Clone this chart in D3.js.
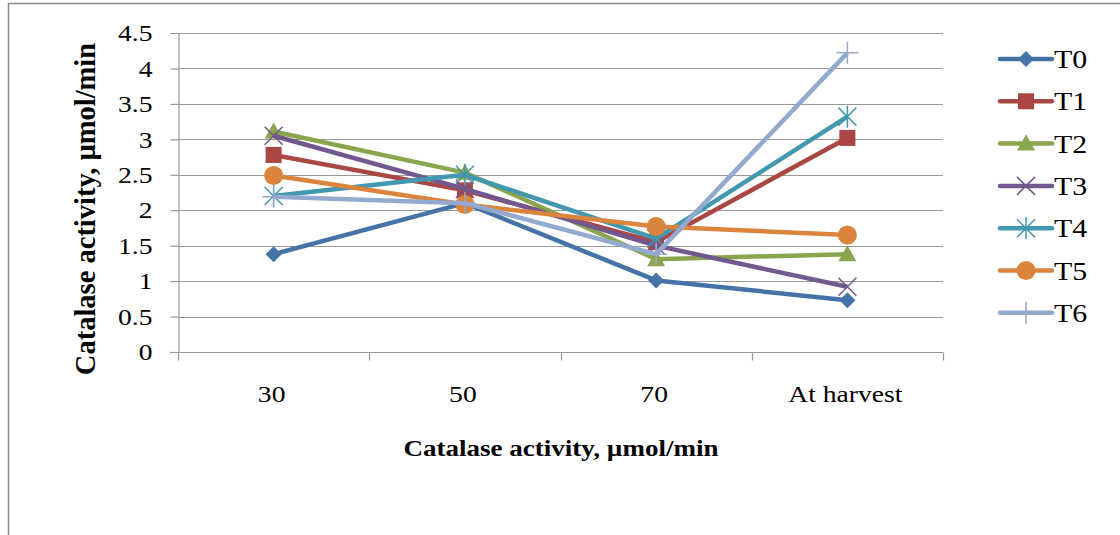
<!DOCTYPE html>
<html>
<head>
<meta charset="utf-8">
<script src="https://cdn.jsdelivr.net/npm/d3@7"></script>
<style>
  body { margin: 0; background: #fff; }
  svg { display: block; font-family: "Liberation Serif", "Times New Roman", serif; }
</style>
</head>
<body>
<svg id="chart" width="1120" height="535"></svg>
<script>
// categories along the x axis
const stages = ["30", "50", "70", "At harvest"];

// series names
const treatments = ["T0", "T1", "T2", "T3", "T4", "T5", "T6"];

// values per treatment, one per stage
const T0 = [1.38, 2.1, 1.01, 0.73];
const T1 = [2.78, 2.28, 1.55, 3.02];
const T2 = [3.11, 2.53, 1.31, 1.38];
const T3 = [3.05, 2.3, 1.5, 0.92];
const T4 = [2.2, 2.5, 1.6, 3.32];
const T5 = [2.49, 2.08, 1.77, 1.65];
const T6 = [2.19, 2.1, 1.38, 4.22];

const yTicks = [0, 0.5, 1, 1.5, 2, 2.5, 3, 3.5, 4, 4.5];

const colors = ["#4572A7", "#AA4643", "#89A54E", "#71588F", "#4198AF", "#DB843D", "#93A9CF"];
const shapes = ["diamond", "square", "triangle", "x", "asterisk", "circle", "plus"];

const seriesValues = [T0, T1, T2, T3, T4, T5, T6];

// the source figure's type is a bit wide, so text is stretched sideways
const stretch = 1.15;

const svg = d3.select('#chart');

// outer frame of the chart
svg.append('path')
  .attr('d', 'M8.5,535 L8.5,3.5 L1120,3.5')
  .style('fill', 'none')
  .style('stroke', '#8c8c8c')
  .style('stroke-width', 1.5);

const plot = {left: 178, right: 943, top: 33, bottom: 352};

const x = d3.scaleBand()
  .domain(stages)
  .range([plot.left, plot.right]);

const y = d3.scaleLinear()
  .domain([0, 4.5])
  .range([plot.bottom, plot.top]);

// horizontal gridlines
svg.append('g')
  .selectAll('line')
  .data(yTicks.slice(1))
  .enter()
  .append('line')
  .attr('x1', plot.left)
  .attr('x2', plot.right)
  .attr('y1', d => Math.round(y(d)) + 0.5)
  .attr('y2', d => Math.round(y(d)) + 0.5)
  .style('stroke', '#999')
  .style('stroke-width', 1.2);

// y axis
const yAxis = svg.append('g')
  .attr('transform', `translate(${plot.left + 0.5},0)`)
  .call(d3.axisLeft(y).tickValues(yTicks).tickSize(8).tickFormat(d3.format('')));
yAxis.select('.domain').style('stroke', '#999').style('stroke-width', 1.2);
yAxis.selectAll('.tick line').style('stroke', '#999').style('stroke-width', 1.2);
yAxis.selectAll('text')
  .attr('x', 0)
  .attr('transform', `translate(-26,0) scale(${stretch},1)`)
  .style('font-size', '24px').style('fill', '#000')
  .style('font-family', '"Liberation Serif", serif');

// x axis with ticks between categories
const xAxis = svg.append('g')
  .attr('transform', `translate(0,${plot.bottom + 0.5})`);
xAxis.append('line')
  .attr('x1', plot.left - 8).attr('x2', plot.right)
  .style('stroke', '#999').style('stroke-width', 1.2);
const bounds = stages.map(d => x(d)).concat([plot.right]);
xAxis.selectAll('line.tk')
  .data(bounds)
  .enter()
  .append('line')
  .attr('class', 'tk')
  .attr('x1', d => Math.round(d) + 0.5).attr('x2', d => Math.round(d) + 0.5)
  .attr('y1', 0).attr('y2', 8)
  .style('stroke', '#999').style('stroke-width', 1.2);
xAxis.selectAll('text')
  .data(stages)
  .enter()
  .append('text')
  .attr('transform', d => `translate(${x(d) + x.bandwidth() / 2 - 2},49) scale(${stretch},1)`)
  .attr('text-anchor', 'middle')
  .style('font-size', '24px')
  .text(d => d);

// axis titles
svg.append('text')
  .attr('transform', `translate(561,456) scale(${stretch},1)`)
  .attr('text-anchor', 'middle')
  .style('font-size', '23.5px')
  .style('font-weight', 'bold')
  .text('Catalase activity, µmol/min');

svg.append('text')
  .attr('transform', 'translate(95,209) rotate(-90)')
  .attr('text-anchor', 'middle')
  .style('font-size', '28.5px')
  .style('font-weight', 'bold')
  .text('Catalase activity, µmol/min');

// marker drawing
function drawMarker(g, shape, color) {
  if (shape === 'diamond') {
    g.append('path').attr('d', 'M0,-8 L8,0 L0,8 L-8,0 Z').style('fill', color);
  } else if (shape === 'square') {
    g.append('rect').attr('x', -8).attr('y', -8).attr('width', 16).attr('height', 16).style('fill', color);
  } else if (shape === 'triangle') {
    g.append('path').attr('d', 'M0,-9 L9,7 L-9,7 Z').style('fill', color);
  } else if (shape === 'circle') {
    g.append('circle').attr('r', 9.5).style('fill', color);
  } else if (shape === 'x') {
    g.append('path').attr('d', 'M-9,-9 L9,9 M-9,9 L9,-9')
      .style('stroke', color).style('stroke-width', 1.5).style('fill', 'none');
  } else if (shape === 'asterisk') {
    g.append('path').attr('d', 'M-9,-9 L9,9 M-9,9 L9,-9 M0,-11 L0,11')
      .style('stroke', color).style('stroke-width', 1.5).style('fill', 'none');
  } else if (shape === 'plus') {
    g.append('path').attr('d', 'M-11,0 L11,0 M0,-11 L0,11')
      .style('stroke', color).style('stroke-width', 1.5).style('fill', 'none');
  }
}

const line = d3.line()
  .x((d, i) => x(stages[i]) + x.bandwidth() / 2)
  .y(d => y(d));

// series lines and markers
treatments.forEach((name, si) => {
  const vals = seriesValues[si];
  const g = svg.append('g').attr('class', `series ${name}`);
  g.append('path')
    .datum(vals)
    .attr('d', line)
    .style('fill', 'none')
    .style('stroke', colors[si])
    .style('stroke-width', 4.5)
    .style('stroke-linejoin', 'round');
  vals.forEach((v, i) => {
    const m = g.append('g')
      .attr('transform', `translate(${x(stages[i]) + x.bandwidth() / 2},${y(v)})`);
    drawMarker(m, shapes[si], colors[si]);
  });
});

// legend
const legend = svg.append('g').attr('class', 'legend');
treatments.forEach((name, si) => {
  const ly = 59 + si * 42.3;
  const lg = legend.append('g');
  lg.append('line')
    .attr('x1', 1000).attr('x2', 1052)
    .attr('y1', ly).attr('y2', ly)
    .style('stroke', colors[si])
    .style('stroke-width', 4.5)
    .style('stroke-linecap', 'round');
  const m = lg.append('g').attr('transform', `translate(1026,${ly})`);
  drawMarker(m, shapes[si], colors[si]);
  lg.append('text')
    .attr('transform', `translate(1054,${ly + 9}) scale(${stretch},1)`)
    .style('font-size', '26px')
    .text(name);
});
</script>
</body>
</html>
